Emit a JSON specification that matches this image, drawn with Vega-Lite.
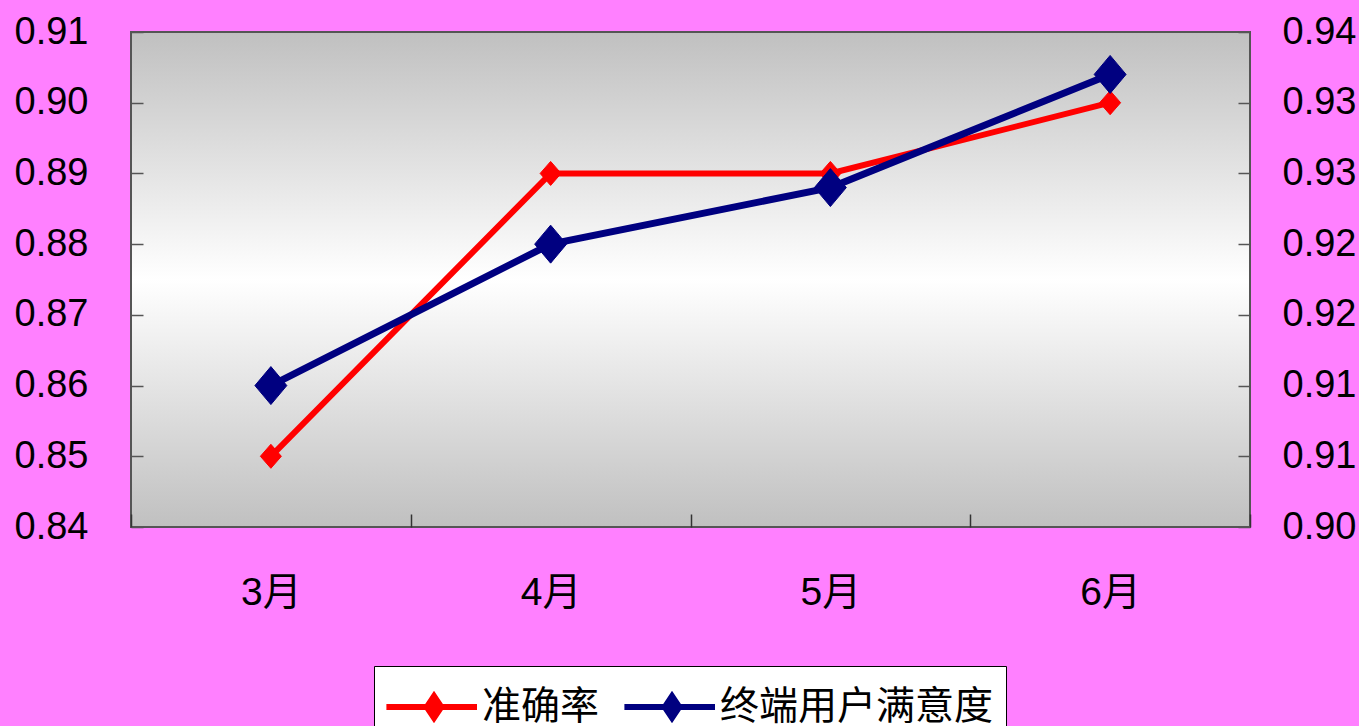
{
  "$schema": "https://vega.github.io/schema/vega-lite/v6.json",
  "width": 1119,
  "height": 495,
  "autosize": {"type": "none"},
  "padding": {"left": 131, "top": 32, "right": 109, "bottom": 199},
  "background": "#ff80ff",
  "view": {
    "fill": {"gradient": "linear", "x1": 0, "y1": 0, "x2": 0, "y2": 1,
      "stops": [{"offset": 0, "color": "#c0c0c0"}, {"offset": 0.5, "color": "#ffffff"}, {"offset": 1, "color": "#c0c0c0"}]},
    "stroke": "#555555",
    "strokeWidth": 2
  },
  "data": {"values": [
    {"month": "3月", "series": "准确率", "value": 0.85},
    {"month": "4月", "series": "准确率", "value": 0.89},
    {"month": "5月", "series": "准确率", "value": 0.89},
    {"month": "6月", "series": "准确率", "value": 0.90},
    {"month": "3月", "series": "终端用户满意度", "value": 0.910},
    {"month": "4月", "series": "终端用户满意度", "value": 0.920},
    {"month": "5月", "series": "终端用户满意度", "value": 0.924},
    {"month": "6月", "series": "终端用户满意度", "value": 0.932}
  ]},
  "encoding": {
    "x": {
      "field": "month", "type": "nominal", "sort": ["3月", "4月", "5月", "6月"],
      "scale": {"paddingInner": 0, "paddingOuter": 0},
      "axis": {
        "title": null, "labelAngle": 0, "domain": false, "grid": false,
        "tickBand": "extent", "tickSize": -13, "tickColor": "#333333", "tickWidth": 1.5,
        "labelFont": "Liberation Sans, Noto Sans CJK SC", "labelFontSize": 39,
        "labelColor": "#000000", "labelPadding": 59, "labelBaseline": "top"
      }
    }
  },
  "layer": [
    {
      "transform": [{"filter": "datum.series === '准确率'"}],
      "encoding": {
        "y": {
          "field": "value", "type": "quantitative",
          "scale": {"domain": [0.84, 0.91], "zero": false, "nice": false},
          "axis": {
            "orient": "left", "title": null, "domain": false, "grid": false,
            "values": [0.84, 0.85, 0.86, 0.87, 0.88, 0.89, 0.90, 0.91], "format": ".2f",
            "tickSize": -12, "tickColor": "#555555", "tickWidth": 1.5,
            "labelFont": "Liberation Sans", "labelFontSize": 38, "labelColor": "#000000",
            "labelPadding": 55
          }
        }
      },
      "layer": [
        {"mark": {"type": "line", "stroke": "#ff0000", "strokeWidth": 6}, "encoding": {}},
        {
          "mark": {"type": "point", "shape": "M-0.875,0L0,-1L0.875,0L0,1Z", "filled": true, "size": 576, "opacity": 1, "strokeWidth": 1},
          "encoding": {
            "fill": {
              "field": "series", "type": "nominal",
              "scale": {"domain": ["准确率", "终端用户满意度"], "range": ["#ff0000", "#000080"]},
              "legend": {
                "title": null, "orient": "none", "legendX": 243, "legendY": 634, "direction": "horizontal",
                "symbolType": "M-1.1,0L2.385,0M0.451,0L0.731,-0.42L1.011,0L0.731,0.42Z",
                "symbolSize": 2704, "symbolStrokeWidth": 6,
                "labelFont": "Noto Sans CJK SC", "labelFontSize": 39, "labelColor": "#000000",
                "labelOffset": 38, "columnPadding": 12, "padding": 12, "labelLimit": 0,
                "fillColor": "#ffffff", "strokeColor": "#000000", "cornerRadius": 0,
                "encode": {"symbols": {"strokeWidth": {"value": 6}, "strokeCap": {"value": "round"}, "opacity": {"value": 1}}}
              }
            },
            "stroke": {
              "field": "series", "type": "nominal",
              "scale": {"domain": ["准确率", "终端用户满意度"], "range": ["#ff0000", "#000080"]},
              "legend": {
                "title": null, "orient": "none", "legendX": 243, "legendY": 634, "direction": "horizontal",
                "symbolType": "M-1.1,0L2.385,0M0.451,0L0.731,-0.42L1.011,0L0.731,0.42Z",
                "symbolSize": 2704, "symbolStrokeWidth": 6,
                "labelFont": "Noto Sans CJK SC", "labelFontSize": 39, "labelColor": "#000000",
                "labelOffset": 38, "columnPadding": 12, "padding": 12, "labelLimit": 0,
                "fillColor": "#ffffff", "strokeColor": "#000000", "cornerRadius": 0,
                "encode": {"symbols": {"strokeWidth": {"value": 6}, "strokeCap": {"value": "round"}, "opacity": {"value": 1}}}
              }
            }
          }
        }
      ]
    },
    {
      "transform": [{"filter": "datum.series === '终端用户满意度'"}],
      "encoding": {
        "y": {
          "field": "value", "type": "quantitative",
          "scale": {"domain": [0.9, 0.935], "zero": false, "nice": false},
          "axis": {
            "orient": "right", "title": null, "domain": false, "grid": false,
            "values": [0.9, 0.905, 0.91, 0.915, 0.92, 0.925, 0.93, 0.935], "format": ".2f",
            "tickSize": -12, "tickColor": "#555555", "tickWidth": 1.5,
            "labelFont": "Liberation Sans", "labelFontSize": 38, "labelColor": "#000000",
            "labelPadding": 44
          }
        }
      },
      "layer": [
        {"mark": {"type": "line", "stroke": "#000080", "strokeWidth": 7}, "encoding": {}},
        {
          "mark": {"type": "point", "shape": "M-0.84,0L0,-1L0.84,0L0,1Z", "filled": true, "size": 1444, "opacity": 1, "strokeWidth": 1},
          "encoding": {
            "fill": {
              "field": "series", "type": "nominal",
              "scale": {"domain": ["准确率", "终端用户满意度"], "range": ["#ff0000", "#000080"]},
              "legend": {
                "title": null, "orient": "none", "legendX": 243, "legendY": 634, "direction": "horizontal",
                "symbolType": "M-1.1,0L2.385,0M0.451,0L0.731,-0.42L1.011,0L0.731,0.42Z",
                "symbolSize": 2704, "symbolStrokeWidth": 6,
                "labelFont": "Noto Sans CJK SC", "labelFontSize": 39, "labelColor": "#000000",
                "labelOffset": 38, "columnPadding": 12, "padding": 12, "labelLimit": 0,
                "fillColor": "#ffffff", "strokeColor": "#000000", "cornerRadius": 0,
                "encode": {"symbols": {"strokeWidth": {"value": 6}, "strokeCap": {"value": "round"}, "opacity": {"value": 1}}}
              }
            },
            "stroke": {
              "field": "series", "type": "nominal",
              "scale": {"domain": ["准确率", "终端用户满意度"], "range": ["#ff0000", "#000080"]},
              "legend": {
                "title": null, "orient": "none", "legendX": 243, "legendY": 634, "direction": "horizontal",
                "symbolType": "M-1.1,0L2.385,0M0.451,0L0.731,-0.42L1.011,0L0.731,0.42Z",
                "symbolSize": 2704, "symbolStrokeWidth": 6,
                "labelFont": "Noto Sans CJK SC", "labelFontSize": 39, "labelColor": "#000000",
                "labelOffset": 38, "columnPadding": 12, "padding": 12, "labelLimit": 0,
                "fillColor": "#ffffff", "strokeColor": "#000000", "cornerRadius": 0,
                "encode": {"symbols": {"strokeWidth": {"value": 6}, "strokeCap": {"value": "round"}, "opacity": {"value": 1}}}
              }
            }
          }
        }
      ]
    }
  ],
  "resolve": {"scale": {"y": "independent"}}
}
